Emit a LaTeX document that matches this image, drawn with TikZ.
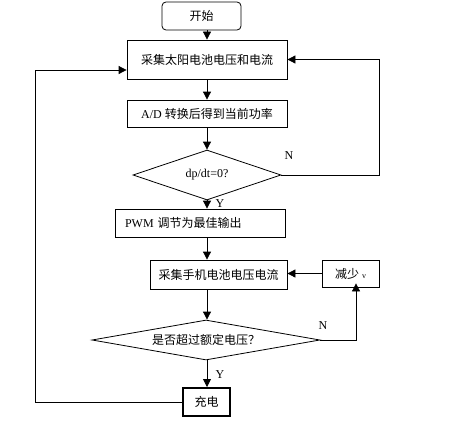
\documentclass[tikz,border=0pt]{standalone}
\usepackage{fontspec}
\setmainfont{Liberation Serif}
\newfontfamily\cjk{Noto Sans CJK SC}
\usetikzlibrary{shapes.geometric,arrows.meta}
\definecolor{flow}{HTML}{000000}

\begin{document}
	\begin{tikzpicture}[x=1pt,y=-1pt,
		box/.style={draw=flow,rectangle,line width=0.8pt,inner sep=0pt,font=\fontsize{12}{14}\selectfont},
		dec/.style={draw=flow,diamond,aspect=4,line width=0.8pt,inner sep=0pt,font=\fontsize{12}{14}\selectfont},
		flowarrow/.style={draw=flow,line width=0.8pt,-{Triangle[length=8pt,width=8pt]}},
		lab/.style={font=\fontsize{12}{14}\selectfont}]
		\useasboundingbox (0,0) rectangle (460,420);
		%
		%guides
		\coordinate (col) at (207,0);
		\coordinate (loopL) at (35,70);
		\coordinate (loopR) at (379,0);
		\coordinate (upN) at (356,0);
		%
		%boxes
		\node[box,rounded corners=4pt,minimum width=79pt,minimum height=28pt] (start) at (201.5,16) {\cjk 开始};
		\node[box,minimum width=160pt,minimum height=39pt] (solar) at (207,59.5) {\cjk 采集太阳电池电压和电流};
		\node[box,minimum width=160pt,minimum height=27pt] (power) at (207,113.5) {A/D {\cjk 转换后得到当前功率}};
		\node[dec,minimum width=148pt,minimum height=50pt] (slope) at (207,175) {dp/dt=0?};
		\node[box,minimum width=170pt,minimum height=28pt,inner xsep=10pt,text width=150pt,align=left] (pwm) at (200,223) {PWM {\cjk 调节为最佳输出}};
		\node[box,minimum width=137pt,minimum height=29pt] (phone) at (218.5,274.5) {\cjk 采集手机电池电压电流};
		\node[box,minimum width=57pt,minimum height=27pt] (reduce) at (350.5,273.5) {{\cjk 减少} {\footnotesize v}};
		\node[dec,minimum width=228pt,minimum height=40pt] (over) at (206,340) {\cjk 是否超过额定电压？};
		\node[box,line width=2pt,minimum width=47pt,minimum height=28pt] (charge) at (206.5,402) {\cjk 充电};
		%
		%main column
		\draw[flowarrow] (col |- start.south) -- (col |- solar.north);
		\draw[flowarrow] (col |- solar.south) -- (col |- power.north);
		\draw[flowarrow] (col |- power.south) -- (slope.north);
		\draw[flowarrow] (slope.south) -- (col |- pwm.north);
		\draw[flowarrow] (col |- pwm.south) -- (col |- phone.north);
		\draw[flowarrow] (col |- phone.south) -- (col |- over.north);
		\draw[flowarrow] (col |- over.south) -- (col |- charge.north);
		%
		%loops
		\draw[flowarrow] (slope.east) -| (loopR |- solar.east) -- (solar.east);
		\draw[flowarrow] (charge.west) -| (loopL) -- (loopL -| solar.west);
		\draw[flowarrow] (over.east) -| ([yshift=4pt]upN |- reduce.south);
		\draw[flowarrow] (reduce.west) -- (reduce.west -| phone.east);
		%
		%labels
		\node[lab] (slopeN) at (289,156) {N};
		\node[lab] (slopeY) at (220,204) {Y};
		\node[lab] (overN) at (323,326) {N};
		\node[lab] (overY) at (220,375) {Y};
	\end{tikzpicture}
\end{document}
